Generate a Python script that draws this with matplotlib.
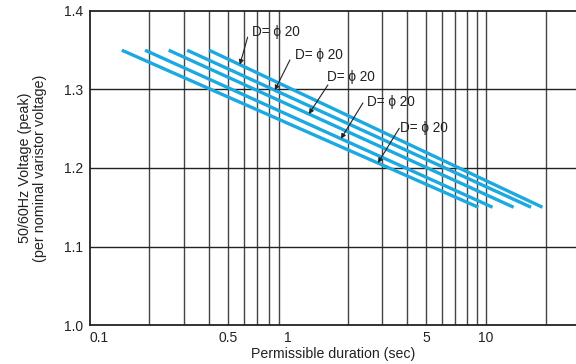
import numpy as np
import matplotlib
matplotlib.use("Agg")
import matplotlib.pyplot as plt

plt.rcParams['font.family'] = ['Liberation Sans', 'DejaVu Sans']

# permissible duration (sec) at the start/end of each curve
t_start = [0.145, 0.19, 0.25, 0.31, 0.40]
t_end = [9.15, 10.8, 13.8, 16.9, 19.3]
v_start = 1.35
v_end = 1.15

# label text, where each arrow points (sec), text and arrow-tail positions
labels = ["D= ϕ 20"] * 5
label_curve = [4, 3, 2, 1, 0]
label_tip_t = [0.572, 0.859, 1.276, 1.853, 2.848]
label_text_xy = [(0.656, 1.3736), (1.085, 1.344), (1.574, 1.3159), (2.506, 1.284), (3.68, 1.251)]
label_tail_xy = [(0.626, 1.3665), (1.024, 1.3376), (1.592, 1.3057), (2.392, 1.2828), (3.65, 1.2505)]

blue = '#1ba9e1'
ink = '#222222'

fig = plt.figure(figsize=(5.76, 3.64), dpi=100)
ax = fig.add_axes([0.156, 0.107, 0.844, 0.863])

ax.set_xscale('log')
ax.set_xlim(0.1, 28.5)
ax.set_ylim(1.0, 1.4)

# grid
for x in list(np.arange(2, 10) * 0.1) + list(np.arange(2, 10)) + [10, 20]:
    ax.axvline(x, color='#444444', lw=1.0, zorder=1)
for y in [1.1, 1.2, 1.3]:
    ax.axhline(y, color=ink, lw=1.0, zorder=1)

for a, b in zip(t_start, t_end):
    ax.plot([a, b], [v_start, v_end], color=blue, lw=2.4, solid_capstyle='butt', zorder=3)

def v_on_curve(i, t):
    la, lb = np.log10(t_start[i]), np.log10(t_end[i])
    f = (np.log10(t) - la) / (lb - la)
    return v_start + f * (v_end - v_start)

for txt, c, tt, pxy, qxy in zip(labels, label_curve, label_tip_t, label_text_xy, label_tail_xy):
    ax.text(pxy[0], pxy[1], txt, ha='left', va='center', fontsize=9.8, color=ink, zorder=4)
    ax.annotate('', xy=(tt, v_on_curve(c, tt)), xytext=qxy,
                arrowprops=dict(arrowstyle='-|>', color=ink, lw=0.8,
                                mutation_scale=7, shrinkA=0, shrinkB=0), zorder=4)

ax.set_yticks([1.0, 1.1, 1.2, 1.3, 1.4])
ax.set_yticklabels(['1.0', '1.1', '1.2', '1.3', '1.4'])
ax.set_xticks([0.1, 0.5, 1, 5, 10])
ax.set_xticklabels(['0.1', '0.5', '1', '5', '10'])
ax.get_xticklabels()[0].set_horizontalalignment('left')
ax.xaxis.set_minor_locator(matplotlib.ticker.NullLocator())
ax.tick_params(length=0, labelsize=10, colors=ink)
ax.tick_params(axis='y', pad=5)
ax.tick_params(axis='x', pad=4)

for s in ['left', 'bottom', 'top']:
    ax.spines[s].set_linewidth(1.3)
    ax.spines[s].set_color(ink)
ax.spines['right'].set_visible(False)

ax.set_xlabel('Permissible duration (sec)', fontsize=10.2, color=ink, labelpad=2)
ax.set_ylabel('50/60Hz Voltage (peak)\n(per nominal varistor voltage)', fontsize=10.4,
              color=ink, labelpad=12, linespacing=1.1)

fig.savefig('out.png', dpi=100)
